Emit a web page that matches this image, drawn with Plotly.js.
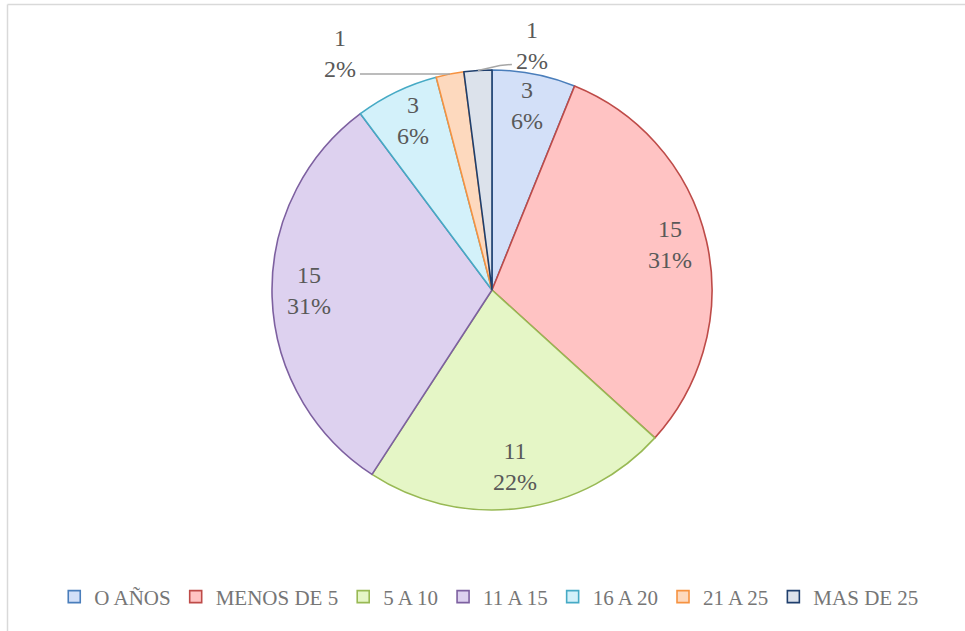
<!DOCTYPE html>
<html>
<head>
<meta charset="utf-8">
<script src="https://cdn.plot.ly/plotly-3.0.1.min.js"></script>
<style>
html,body{margin:0;padding:0;background:#fff;overflow:hidden;}
#chart{width:965px;height:631px;}
</style>
</head>
<body>
<div id="chart"></div>
<script>
// ---- data ----
const categories = ["O AÑOS", "MENOS DE 5", "5 A 10", "11 A 15", "16 A 20", "21 A 25", "MAS DE 25"];
const values = [3, 15, 11, 15, 3, 1, 1];
const fillColors = ["#d3e0f8", "#ffc3c3", "#e5f6c6", "#ddd1ef", "#d3f1fa", "#fdd9be", "#dce2eb"];
const lineColors = ["#4a7ebb", "#be4b48", "#98b954", "#7d60a0", "#46aac5", "#f69240", "#1f3f6d"];
// label placement: inside for big slices, outside with leader line for the tiny ones
const labelOutside = [false, false, false, false, false, true, true];
// leader-line elbow offsets (px) and text offsets for outside labels
const leaderPaths = [null, null, null, null, null, [[-90, 0]], [[22, -5], [34, -6]]];
const textOffsets = [null, null, null, null, null, [-110, -21], [54, -25]];

// ---- layout geometry ----
const W = 965, H = 631;
const CX = 492, CY = 290, R = 220;
const px2x = p => p / W;
const py2y = p => 1 - p / H;
const FONT = "'Liberation Serif', 'DejaVu Serif', serif";

const total = values.reduce((a, b) => a + b, 0);
const annotations = [];
const shapes = [
  {type: "line", xref: "paper", yref: "paper", x0: px2x(7.5), x1: px2x(7.5), y0: 0, y1: py2y(4.5), line: {color: "#d9d9d9", width: 1.5}},
  {type: "line", xref: "paper", yref: "paper", x0: px2x(7.5), x1: 1, y0: py2y(4.5), y1: py2y(4.5), line: {color: "#d9d9d9", width: 1.5}}
];
let cum = 0;
values.forEach((v, i) => {
  const mid = (cum + v / 2) / total * 2 * Math.PI;
  cum += v;
  const pct = Math.round(v / total * 100);
  const text = v + "<br>" + pct + "%";
  if (!labelOutside[i]) {
    const r = 0.83 * R;
    annotations.push({
      xref: "paper", yref: "paper",
      x: px2x(CX + r * Math.sin(mid)), y: py2y(CY - r * Math.cos(mid) - 5),
      text: text, showarrow: false,
      font: {family: FONT, size: 24, color: "#595959"},
      xanchor: "center", yanchor: "middle"
    });
  } else {
    const ex = CX + R * Math.sin(mid), ey = CY - R * Math.cos(mid);
    let d = "M " + ex + " " + ey;
    leaderPaths[i].forEach(p => { d += " L " + (ex + p[0]) + " " + (ey + p[1]); });
    // path in pixel space -> paper space
    const pts = [[ex, ey]].concat(leaderPaths[i].map(p => [ex + p[0], ey + p[1]]));
    const path = pts.map((p, k) => (k ? "L " : "M ") + px2x(p[0]) + "," + py2y(p[1])).join(" ");
    shapes.push({type: "path", xref: "paper", yref: "paper", path: path, line: {color: "#a6a6a6", width: 1.5}});
    annotations.push({
      xref: "paper", yref: "paper",
      x: px2x(ex + textOffsets[i][0]), y: py2y(ey + textOffsets[i][1]),
      text: text, showarrow: false,
      font: {family: FONT, size: 24, color: "#595959"},
      xanchor: "center", yanchor: "middle"
    });
  }
});

const trace = {
  type: "pie",
  labels: categories,
  values: values,
  sort: false,
  direction: "clockwise",
  rotation: 0,
  textinfo: "none",
  hoverinfo: "label+value+percent",
  marker: {colors: fillColors, line: {color: lineColors, width: 1.6}},
  domain: {x: [px2x(CX - R), px2x(CX + R)], y: [py2y(CY + R), py2y(CY - R)]}
};

const layout = {
  width: W, height: H,
  margin: {l: 0, r: 0, t: 0, b: 0},
  paper_bgcolor: "#ffffff",
  showlegend: true,
  legend: {
    orientation: "h", x: 0.507, xanchor: "center", y: py2y(597), yanchor: "middle",
    font: {family: FONT, size: 21, color: "#767676"},
    itemwidth: 30, tracegroupgap: 0
  },
  annotations: annotations,
  shapes: shapes
};

Plotly.newPlot("chart", [trace], layout, {displayModeBar: false, staticPlot: true});
</script>
</body>
</html>
